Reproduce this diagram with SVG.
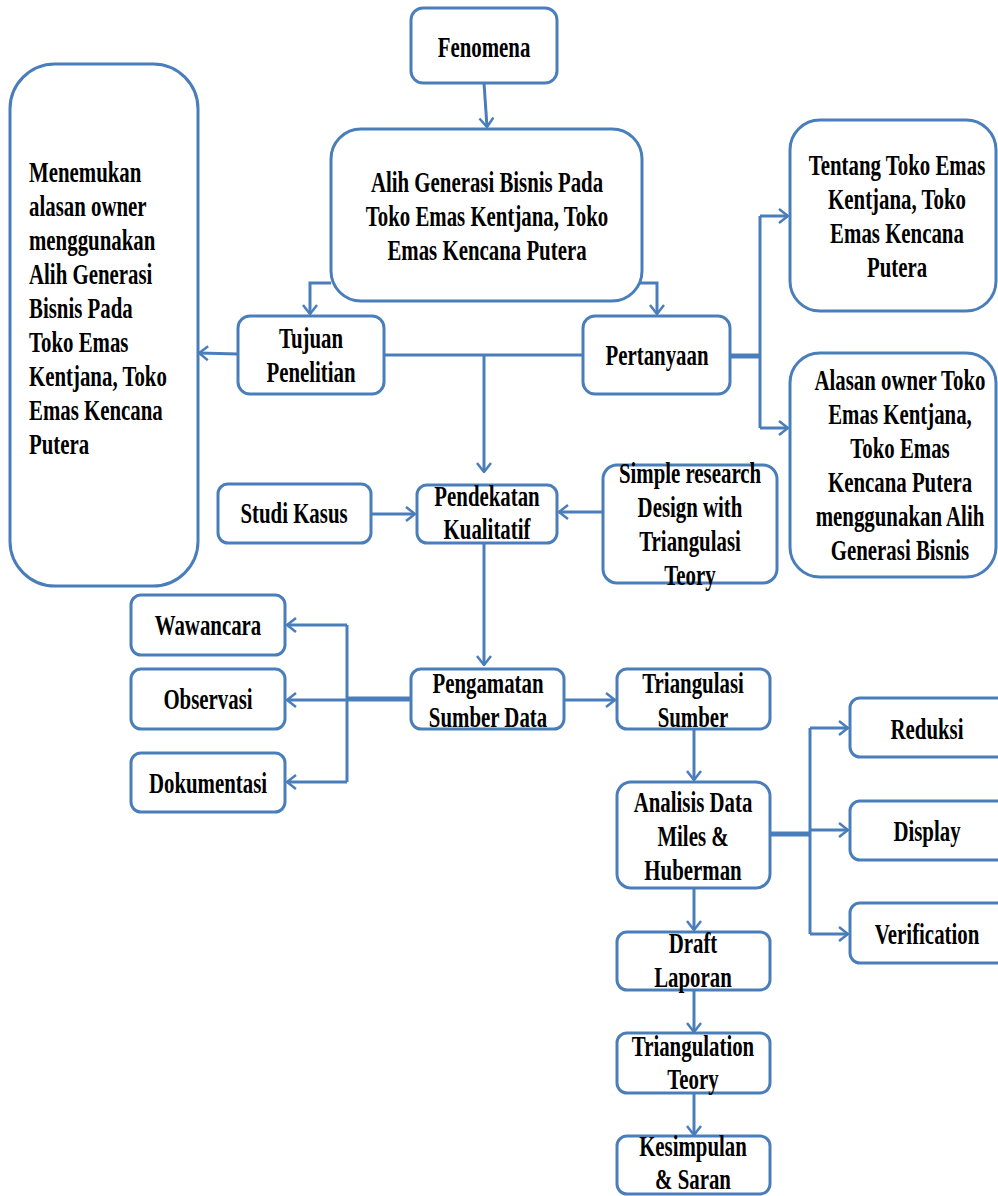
<svg xmlns="http://www.w3.org/2000/svg" width="998" height="1196" viewBox="0 0 998 1196">
<defs>
<style>
.b{fill:#fff;stroke:#4a7ebb;stroke-width:3}
.c{fill:none;stroke:#4a7ebb;stroke-width:3}
.k{fill:none;stroke:#4a7ebb;stroke-width:5}
.t{font-family:"Liberation Serif","Times New Roman",serif;font-weight:bold;font-size:30px;fill:#000;text-anchor:middle}
.l{text-anchor:start}
</style>
<marker id="a" viewBox="0 0 11 16" refX="10" refY="8" markerWidth="11" markerHeight="16" markerUnits="userSpaceOnUse" orient="auto">
<path d="M1,1 L10,8 L1,15" fill="none" stroke="#4a7ebb" stroke-width="2.5"/>
</marker>
</defs>
<rect width="998" height="1196" fill="#fff"/>
<g id="connectors">
<path class="c" d="M484,83 L487,127" marker-end="url(#a)"/>
<path class="c" d="M331,283 H310 V314" marker-end="url(#a)"/>
<path class="c" d="M637,252 V283 H657 V314" marker-end="url(#a)"/>
<path class="c" d="M238,354 L199,353" marker-end="url(#a)"/>
<path class="c" d="M384,355 H583"/>
<path class="c" d="M484,355 V472" marker-end="url(#a)"/>
<path class="k" d="M730,356 H760"/>
<path class="c" d="M760,216 V428"/>
<path class="c" d="M760,216 H788" marker-end="url(#a)"/>
<path class="c" d="M760,428 H788" marker-end="url(#a)"/>
<path class="c" d="M371,514 H415" marker-end="url(#a)"/>
<path class="c" d="M603,512 H559" marker-end="url(#a)"/>
<path class="c" d="M484,543 V665" marker-end="url(#a)"/>
<path class="k" d="M411,699 H347"/>
<path class="c" d="M347,625 V782"/>
<path class="c" d="M347,625 H287" marker-end="url(#a)"/>
<path class="c" d="M347,700 H287" marker-end="url(#a)"/>
<path class="c" d="M347,782 H287" marker-end="url(#a)"/>
<path class="c" d="M564,700 H615" marker-end="url(#a)"/>
<path class="c" d="M694,729 V780" marker-end="url(#a)"/>
<path class="k" d="M770,834 H810"/>
<path class="c" d="M810,728 V934"/>
<path class="c" d="M810,728 H848" marker-end="url(#a)"/>
<path class="c" d="M810,830 H848" marker-end="url(#a)"/>
<path class="c" d="M810,934 H848" marker-end="url(#a)"/>
<path class="c" d="M694,888 V930" marker-end="url(#a)"/>
<path class="c" d="M694,990 V1032" marker-end="url(#a)"/>
<path class="c" d="M694,1093 V1135" marker-end="url(#a)"/>
</g>
<g id="fenomena">
<rect class="b" x="411" y="8" width="146" height="75" rx="12"/>
<text class="t" transform="translate(484 0) scale(.695 1)"><tspan x="0" y="57">Fenomena</tspan></text>
</g>
<g id="alih">
<rect class="b" x="331" y="129" width="311" height="172" rx="30"/>
<text class="t" transform="translate(487 0) scale(.695 1)"><tspan x="0" y="192">Alih Generasi Bisnis Pada</tspan><tspan x="0" y="226">Toko Emas Kentjana, Toko</tspan><tspan x="0" y="260">Emas Kencana Putera</tspan></text>
</g>
<g id="menemukan">
<rect class="b" x="10" y="64" width="188" height="522" rx="45"/>
<text class="t l" transform="translate(29 0) scale(.695 1)"><tspan x="0" y="182">Menemukan</tspan><tspan x="0" y="216">alasan owner</tspan><tspan x="0" y="250">menggunakan</tspan><tspan x="0" y="284">Alih Generasi</tspan><tspan x="0" y="318">Bisnis Pada</tspan><tspan x="0" y="352">Toko Emas</tspan><tspan x="0" y="386">Kentjana, Toko</tspan><tspan x="0" y="420">Emas Kencana</tspan><tspan x="0" y="454">Putera</tspan></text>
</g>
<g id="tujuan">
<rect class="b" x="238" y="316" width="146" height="78" rx="12"/>
<text class="t" transform="translate(311 0) scale(.695 1)"><tspan x="0" y="348">Tujuan</tspan><tspan x="0" y="382">Penelitian</tspan></text>
</g>
<g id="pertanyaan">
<rect class="b" x="583" y="316" width="147" height="78" rx="12"/>
<text class="t" transform="translate(657 0) scale(.695 1)"><tspan x="0" y="365">Pertanyaan</tspan></text>
</g>
<g id="tentang">
<rect class="b" x="790" y="120" width="206" height="191" rx="30"/>
<text class="t" transform="translate(897 0) scale(.695 1)"><tspan x="0" y="175">Tentang Toko Emas</tspan><tspan x="0" y="209">Kentjana, Toko</tspan><tspan x="0" y="243">Emas Kencana</tspan><tspan x="0" y="277">Putera</tspan></text>
</g>
<g id="alasan">
<rect class="b" x="790" y="353" width="206" height="224" rx="30"/>
<text class="t" transform="translate(900 0) scale(.695 1)"><tspan x="0" y="390">Alasan owner Toko</tspan><tspan x="0" y="424">Emas Kentjana,</tspan><tspan x="0" y="458">Toko Emas</tspan><tspan x="0" y="492">Kencana Putera</tspan><tspan x="0" y="526">menggunakan Alih</tspan><tspan x="0" y="560">Generasi Bisnis</tspan></text>
</g>
<g id="studi">
<rect class="b" x="218" y="484" width="153" height="59" rx="10"/>
<text class="t" transform="translate(294 0) scale(.695 1)"><tspan x="0" y="523">Studi Kasus</tspan></text>
</g>
<g id="pendekatan">
<rect class="b" x="417" y="485" width="140" height="58" rx="10"/>
<text class="t" transform="translate(487 0) scale(.695 1)"><tspan x="0" y="506">Pendekatan</tspan><tspan x="0" y="539">Kualitatif</tspan></text>
</g>
<g id="simple">
<rect class="b" x="603" y="465" width="174" height="118" rx="14"/>
<text class="t" transform="translate(690 0) scale(.695 1)"><tspan x="0" y="483">Simple research</tspan><tspan x="0" y="517">Design with</tspan><tspan x="0" y="551">Triangulasi</tspan><tspan x="0" y="585">Teory</tspan></text>
</g>
<g id="wawancara">
<rect class="b" x="131" y="595" width="154" height="60" rx="10"/>
<text class="t" transform="translate(208 0) scale(.695 1)"><tspan x="0" y="635">Wawancara</tspan></text>
</g>
<g id="observasi">
<rect class="b" x="131" y="669" width="154" height="60" rx="10"/>
<text class="t" transform="translate(208 0) scale(.695 1)"><tspan x="0" y="709">Observasi</tspan></text>
</g>
<g id="dokumentasi">
<rect class="b" x="131" y="753" width="154" height="59" rx="10"/>
<text class="t" transform="translate(208 0) scale(.695 1)"><tspan x="0" y="793">Dokumentasi</tspan></text>
</g>
<g id="pengamatan">
<rect class="b" x="411" y="669" width="153" height="60" rx="10"/>
<text class="t" transform="translate(488 0) scale(.695 1)"><tspan x="0" y="693">Pengamatan</tspan><tspan x="0" y="727">Sumber Data</tspan></text>
</g>
<g id="triangulasi">
<rect class="b" x="617" y="669" width="153" height="60" rx="10"/>
<text class="t" transform="translate(693 0) scale(.695 1)"><tspan x="0" y="693">Triangulasi</tspan><tspan x="0" y="727">Sumber</tspan></text>
</g>
<g id="analisis">
<rect class="b" x="617" y="782" width="153" height="106" rx="14"/>
<text class="t" transform="translate(693 0) scale(.695 1)"><tspan x="0" y="812">Analisis Data</tspan><tspan x="0" y="846">Miles &amp;</tspan><tspan x="0" y="880">Huberman</tspan></text>
</g>
<g id="reduksi">
<rect class="b" x="850" y="698" width="160" height="59" rx="10"/>
<text class="t" transform="translate(927 0) scale(.695 1)"><tspan x="0" y="739">Reduksi</tspan></text>
</g>
<g id="display">
<rect class="b" x="850" y="801" width="160" height="59" rx="10"/>
<text class="t" transform="translate(927 0) scale(.695 1)"><tspan x="0" y="841">Display</tspan></text>
</g>
<g id="verification">
<rect class="b" x="850" y="903" width="160" height="60" rx="10"/>
<text class="t" transform="translate(927 0) scale(.695 1)"><tspan x="0" y="944">Verification</tspan></text>
</g>
<g id="draft">
<rect class="b" x="617" y="932" width="153" height="58" rx="10"/>
<text class="t" transform="translate(693 0) scale(.695 1)"><tspan x="0" y="953">Draft</tspan><tspan x="0" y="987">Laporan</tspan></text>
</g>
<g id="triangulation">
<rect class="b" x="617" y="1033" width="153" height="60" rx="10"/>
<text class="t" transform="translate(693 0) scale(.695 1)"><tspan x="0" y="1056">Triangulation</tspan><tspan x="0" y="1089">Teory</tspan></text>
</g>
<g id="kesimpulan">
<rect class="b" x="617" y="1136" width="153" height="58" rx="10"/>
<text class="t" transform="translate(693 0) scale(.695 1)"><tspan x="0" y="1156">Kesimpulan</tspan><tspan x="0" y="1189">&amp; Saran</tspan></text>
</g>
</svg>
